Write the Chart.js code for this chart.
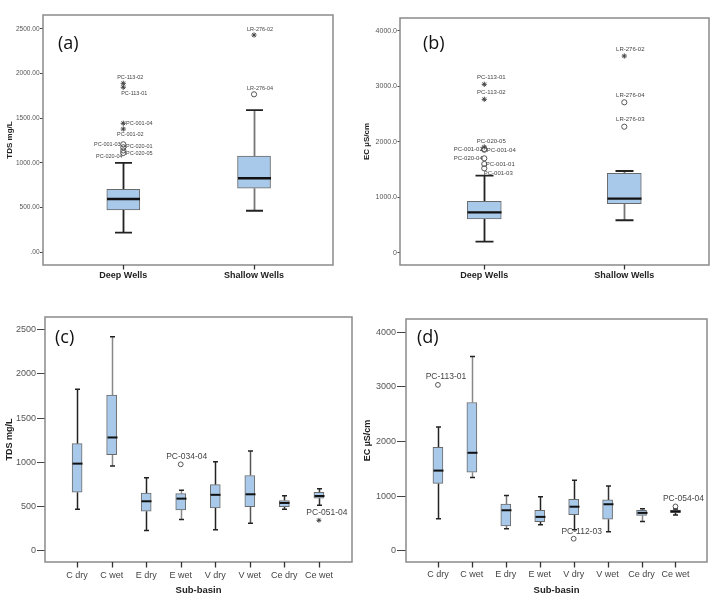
<!DOCTYPE html>
<html><head><meta charset="utf-8">
<script src="https://cdn.jsdelivr.net/npm/chart.js@4/dist/chart.umd.min.js"></script>
<style>
html,body{margin:0;padding:0;background:#fff;}
#wrap{position:relative;width:715px;height:606px;overflow:hidden;background:#fff;}
canvas{position:absolute;}
</style></head><body>
<div id="wrap">
<canvas id="ca" width="357" height="290" style="left:0;top:0"></canvas>
<canvas id="cb" width="358" height="290" style="left:357px;top:0"></canvas>
<canvas id="cc" width="357" height="316" style="left:0;top:290px"></canvas>
<canvas id="cd" width="358" height="316" style="left:357px;top:290px"></canvas>
</div>
<script>
// ---------- Panel (a): TDS, deep vs shallow wells ----------
const catsA = ['Deep Wells', 'Shallow Wells'];
const loA  = [219, 465];
const q1A  = [473, 716];
const medA = [596, 828];
const q3A  = [705, 1077];
const hiA  = [1000, 1591];
const yTicksA  = [0, 500, 1000, 1500, 2000, 2500];
const yLabelsA = ['.00', '500.00', '1000.00', '1500.00', '2000.00', '2500.00'];
const outCatA   = [0, 0, 0, 0, 0, 0, 0, 0, 1, 1];
const outValA   = [1890, 1846, 1443, 1379, 1208, 1174, 1139, 1111, 1767, 2430];
const outKindA  = ['star','star','star','star','circle','circle','circle','circle','circle','star'];
const outLabelA = ['PC-113-02','PC-113-01','PC-001-04','PC-001-02','PC-001-03','PC-020-01','PC-020-05','PC-020-04','LR-276-04','LR-276-02'];

// ---------- Panel (b): EC, deep vs shallow wells ----------
const catsB = ['Deep Wells', 'Shallow Wells'];
const loB  = [198, 584];
const q1B  = [607, 883];
const medB = [728, 974];
const q3B  = [925, 1430];
const hiB  = [1390, 1472];
const yTicksB  = [0, 1000, 2000, 3000, 4000];
const yLabelsB = ['0', '1000.0', '2000.0', '3000.0', '4000.0'];
const outCatB   = [0, 0, 0, 0, 0, 0, 0, 0, 1, 1, 1];
const outValB   = [3034, 2764, 1905, 1868, 1855, 1700, 1598, 1520, 3544, 2710, 2270];
const outKindB  = ['star','star','star','circle','circle','circle','circle','circle','star','circle','circle'];
const outLabelB = ['PC-113-01','PC-113-02','PC-020-05','PC-001-02','PC-001-04','PC-020-04','PC-001-01','PC-001-03','LR-276-02','LR-276-04','LR-276-03'];

// ---------- Panel (c): TDS by sub-basin ----------
const catsC = ['C dry','C wet','E dry','E wet','V dry','V wet','Ce dry','Ce wet'];
const loC  = [469, 957, 226, 352, 237, 309, 467, 512];
const q1C  = [660, 1084, 445, 460, 482, 498, 498, 592];
const medC = [984, 1280, 558, 588, 631, 637, 539, 618];
const q3C  = [1210, 1760, 652, 645, 746, 850, 566, 660];
const hiC  = [1825, 2420, 824, 682, 1005, 1127, 620, 701];
const yTicksC  = [0, 500, 1000, 1500, 2000, 2500];
const yLabelsC = ['0', '500', '1000', '1500', '2000', '2500'];
const outCatC   = [3, 7];
const outValC   = [976, 343];
const outKindC  = ['circle', 'star'];
const outLabelC = ['PC-034-04', 'PC-051-04'];

// ---------- Panel (d): EC by sub-basin ----------
const catsD = ['C dry','C wet','E dry','E wet','V dry','V wet','Ce dry','Ce wet'];
const loD  = [585, 1340, 400, 473, 384, 347, 536, 652];
const q1D  = [1231, 1436, 452, 530, 658, 575, 645, 695];
const medD = [1466, 1792, 740, 619, 805, 850, 692, 719];
const q3D  = [1890, 2712, 854, 740, 938, 930, 737, 744];
const hiD  = [2265, 3555, 1011, 988, 1289, 1183, 768, 762];
const yTicksD  = [0, 1000, 2000, 3000, 4000];
const yLabelsD = ['0', '1000', '2000', '3000', '4000'];
const outCatD   = [0, 4, 7];
const outValD   = [3035, 219, 810];
const outKindD  = ['circle', 'circle', 'circle'];
const outLabelD = ['PC-113-01', 'PC-112-03', 'PC-054-04'];

// ---------- styles / layout (kept apart from data) ----------
const labOffA = [[7,-6],[11,6],[16,0],[7,5],[-16,0],[16,-0.5],[16,3],[-14,4],[6,-6],[6,-6]];
const labOffB = [[7,-7],[7,-7],[7,-6],[-16,0],[17,0.5],[-16,0],[16,0],[14,5],[6,-7],[6,-7],[6,-7]];
const labOffC = [[6,-8],[8,-8]];
const labOffD = [[8,-8],[8,-7],[8,-8]];
const wColA = ['#222','#777'];
const wColB = ['#222','#777'];
const wColC = ['#222','#888','#222','#888','#222','#555','#333','#333'];
const wColD = ['#222','#888','#777','#222','#222','#333','#888','#222'];

Chart.defaults.font.family = "'Liberation Sans', Arial, sans-serif";
const BOX_FILL = '#a8c9ea';

function boxPanel(id, p) {
  const boxData = p.cats.map((c, i) => ({x: i, y: [p.q1[i], p.q3[i]]}));
  const circ = [], star = [];
  p.oCat.forEach((c, i) => { (p.oKind[i] === 'star' ? star : circ).push({x: c, y: p.oVal[i]}); });

  const plugin = {
    id: 'boxplot_' + id,
    beforeDatasetsDraw(chart) {
      const {ctx, scales: {x, y}} = chart;
      ctx.save();
      p.cats.forEach((c, i) => {
        const px = Math.round(x.getPixelForValue(i)) + 0.5;
        ctx.strokeStyle = p.wCol[i]; ctx.lineWidth = p.ww;
        ctx.beginPath();
        ctx.moveTo(px, y.getPixelForValue(p.lo[i])); ctx.lineTo(px, y.getPixelForValue(p.q1[i]));
        ctx.moveTo(px, y.getPixelForValue(p.q3[i])); ctx.lineTo(px, y.getPixelForValue(p.hi[i]));
        ctx.stroke();
        ctx.strokeStyle = '#222';
        ctx.beginPath();
        [p.lo[i], p.hi[i]].forEach(v => {
          const py = y.getPixelForValue(v);
          ctx.moveTo(px - p.cap / 2, py); ctx.lineTo(px + p.cap / 2, py);
        });
        ctx.stroke();
      });
      ctx.restore();
    },
    afterDatasetsDraw(chart) {
      const {ctx, chartArea: a, scales: {x, y}} = chart;
      ctx.save();
      // medians
      ctx.strokeStyle = '#111'; ctx.lineWidth = p.mw;
      p.cats.forEach((c, i) => {
        const px = Math.round(x.getPixelForValue(i)) + 0.5;
        const py = y.getPixelForValue(p.med[i]);
        ctx.beginPath(); ctx.moveTo(px - p.boxW / 2, py); ctx.lineTo(px + p.boxW / 2, py); ctx.stroke();
      });
      // outlier labels
      ctx.fillStyle = '#444';
      ctx.font = p.lblFont + "px 'Liberation Sans', Arial, sans-serif";
      ctx.textAlign = 'center'; ctx.textBaseline = 'middle';
      p.oCat.forEach((c, i) => {
        const px = x.getPixelForValue(c) + p.labOff[i][0];
        const py = y.getPixelForValue(p.oVal[i]) + p.labOff[i][1];
        ctx.fillText(p.oLabel[i], px, py);
      });
      // frame
      ctx.strokeStyle = '#8a8a8a'; ctx.lineWidth = 1.5;
      ctx.strokeRect(a.left, a.top, a.right - a.left, a.bottom - a.top);
      ctx.restore();
    },
    afterDraw(chart) {
      const {ctx, chartArea: a, scales: {x}} = chart;
      ctx.save();
      // category tick marks below the frame (at scale positions)
      ctx.strokeStyle = '#333'; ctx.lineWidth = 1.3;
      p.cats.forEach((c, i) => {
        const px = Math.round(x.getPixelForValue(i)) + 0.5;
        ctx.beginPath();
        ctx.moveTo(px, a.bottom); ctx.lineTo(px, a.bottom + p.xtl);
        ctx.stroke();
      });
      // panel letter
      ctx.fillStyle = '#111';
      ctx.font = "18px 'Open Sans', sans-serif";
      ctx.textAlign = 'left'; ctx.textBaseline = 'alphabetic';
      ctx.fillText(p.letter, p.letterX, p.letterY);
      ctx.restore();
    }
  };

  new Chart(document.getElementById(id), {
    type: 'bar',
    data: {datasets: [
      {type: 'bar', data: boxData, backgroundColor: BOX_FILL, borderColor: '#6a6a6a', borderWidth: 1,
       borderSkipped: false, barThickness: p.boxW, order: 3},
      {type: 'scatter', data: circ, pointStyle: 'circle', pointRadius: p.r, backgroundColor: 'rgba(255,255,255,0)',
       borderColor: '#555', borderWidth: 1, order: 1},
      {type: 'scatter', data: star, pointStyle: 'star', pointRadius: p.r, borderColor: '#444', borderWidth: 1, order: 1}
    ]},
    options: {
      responsive: false, animation: false, events: [], devicePixelRatio: 1,
      layout: {padding: {top: p.top, right: p.right, left: 0, bottom: 0}},
      plugins: {legend: {display: false}, tooltip: {enabled: false}},
      scales: {
        x: {
          type: 'linear', min: p.xmin, max: p.xmax, offset: false,
          afterBuildTicks: s => { s.ticks = p.cats.map((c, i) => ({value: i})); },
          afterFit: s => { s.height = p.xh; },
          ticks: {callback: v => p.cats[v], autoSkip: false, maxRotation: 0, color: p.xTickColor,
                  font: {size: p.xFont, weight: p.xWeight}, padding: p.xPad + p.xtl},
          grid: {display: false, drawTicks: false},
          border: {display: false},
          title: {display: !!p.xTitle, text: p.xTitle || '', color: '#222',
                  font: {size: 9.5, weight: 'bold'}, padding: {top: 0, bottom: p.xTitlePad}}
        },
        y: {
          min: p.ymin, max: p.ymax,
          afterBuildTicks: s => { s.ticks = p.yTicks.map(v => ({value: v})); },
          afterFit: s => { s.width = p.yw; },
          ticks: {callback: (v, i) => p.yLabels[i], color: '#555', font: {size: p.yFont}, padding: p.yPad},
          grid: {display: true, offset: false, drawOnChartArea: false, drawTicks: true, tickLength: p.ytl, color: '#444'},
          border: {display: false},
          title: {display: true, text: p.yTitle, color: '#222', font: {size: p.yTitleFont, weight: 'bold'},
                  padding: {top: p.yTitlePad, bottom: 0}}
        }
      }
    },
    plugins: [plugin]
  });
}

boxPanel('ca', {cats: catsA, lo: loA, q1: q1A, med: medA, q3: q3A, hi: hiA,
  yTicks: yTicksA, yLabels: yLabelsA, oCat: outCatA, oVal: outValA, oKind: outKindA, oLabel: outLabelA,
  labOff: labOffA, wCol: wColA, boxW: 33, cap: 17, ww: 1.8, mw: 2.5, r: 2.6, lblFont: 5.5,
  top: 15, right: 24, yw: 43, xh: 25, xmin: -0.614, xmax: 1.604, ymin: -142, ymax: 2654,
  xFont: 9, xWeight: 'bold', xTickColor: '#222', xPad: 1, xtl: 4.5,
  yFont: 6.5, yPad: 0.5, ytl: 3, yTitle: 'TDS mg/L', yTitleFont: 8, yTitlePad: 5.2,
  letter: '(a)', letterX: 58, letterY: 49});

boxPanel('cb', {cats: catsB, lo: loB, q1: q1B, med: medB, q3: q3B, hi: hiB,
  yTicks: yTicksB, yLabels: yLabelsB, oCat: outCatB, oVal: outValB, oKind: outKindB, oLabel: outLabelB,
  labOff: labOffB, wCol: wColB, boxW: 34, cap: 18, ww: 1.8, mw: 2.2, r: 2.6, lblFont: 6,
  top: 18, right: 6, yw: 43, xh: 25, xmin: -0.602, xmax: 1.605, ymin: -222, ymax: 4229,
  xFont: 9, xWeight: 'bold', xTickColor: '#222', xPad: 1, xtl: 4.5,
  yFont: 7, yPad: 0.5, ytl: 2.5, yTitle: 'EC µS/cm', yTitleFont: 8, yTitlePad: 5.2,
  letter: '(b)', letterX: 66, letterY: 49});

boxPanel('cc', {cats: catsC, lo: loC, q1: q1C, med: medC, q3: q3C, hi: hiC,
  yTicks: yTicksC, yLabels: yLabelsC, oCat: outCatC, oVal: outValC, oKind: outKindC, oLabel: outLabelC,
  labOff: labOffC, wCol: wColC, boxW: 10, cap: 5, ww: 1.5, mw: 2, r: 2.4, lblFont: 8.5,
  top: 27, right: 3, yw: 45, xh: 44, xmin: -0.929, xmax: 7.958, ymin: -129, ymax: 2643,
  xFont: 9, xWeight: 'normal', xTickColor: '#444', xPad: 2.5, xtl: 5.5, xTitle: 'Sub-basin', xTitlePad: 10.3,
  yFont: 9, yPad: 1, ytl: 8, yTitle: 'TDS mg/L', yTitleFont: 9, yTitlePad: 4.6,
  letter: '(c)', letterX: 55, letterY: 53});

boxPanel('cd', {cats: catsD, lo: loD, q1: q1D, med: medD, q3: q3D, hi: hiD,
  yTicks: yTicksD, yLabels: yLabelsD, oCat: outCatD, oVal: outValD, oKind: outKindD, oLabel: outLabelD,
  labOff: labOffD, wCol: wColD, boxW: 10, cap: 5, ww: 1.5, mw: 2, r: 2.4, lblFont: 8.5,
  top: 29, right: 8, yw: 49, xh: 44, xmin: -0.941, xmax: 7.929, ymin: -207, ymax: 4241,
  xFont: 9, xWeight: 'normal', xTickColor: '#444', xPad: 1.5, xtl: 5.5, xTitle: 'Sub-basin', xTitlePad: 10.3,
  yFont: 9, yPad: 1, ytl: 9, yTitle: 'EC µS/cm', yTitleFont: 9, yTitlePad: 5.3,
  letter: '(d)', letterX: 60, letterY: 52.5});
</script>
</body></html>
